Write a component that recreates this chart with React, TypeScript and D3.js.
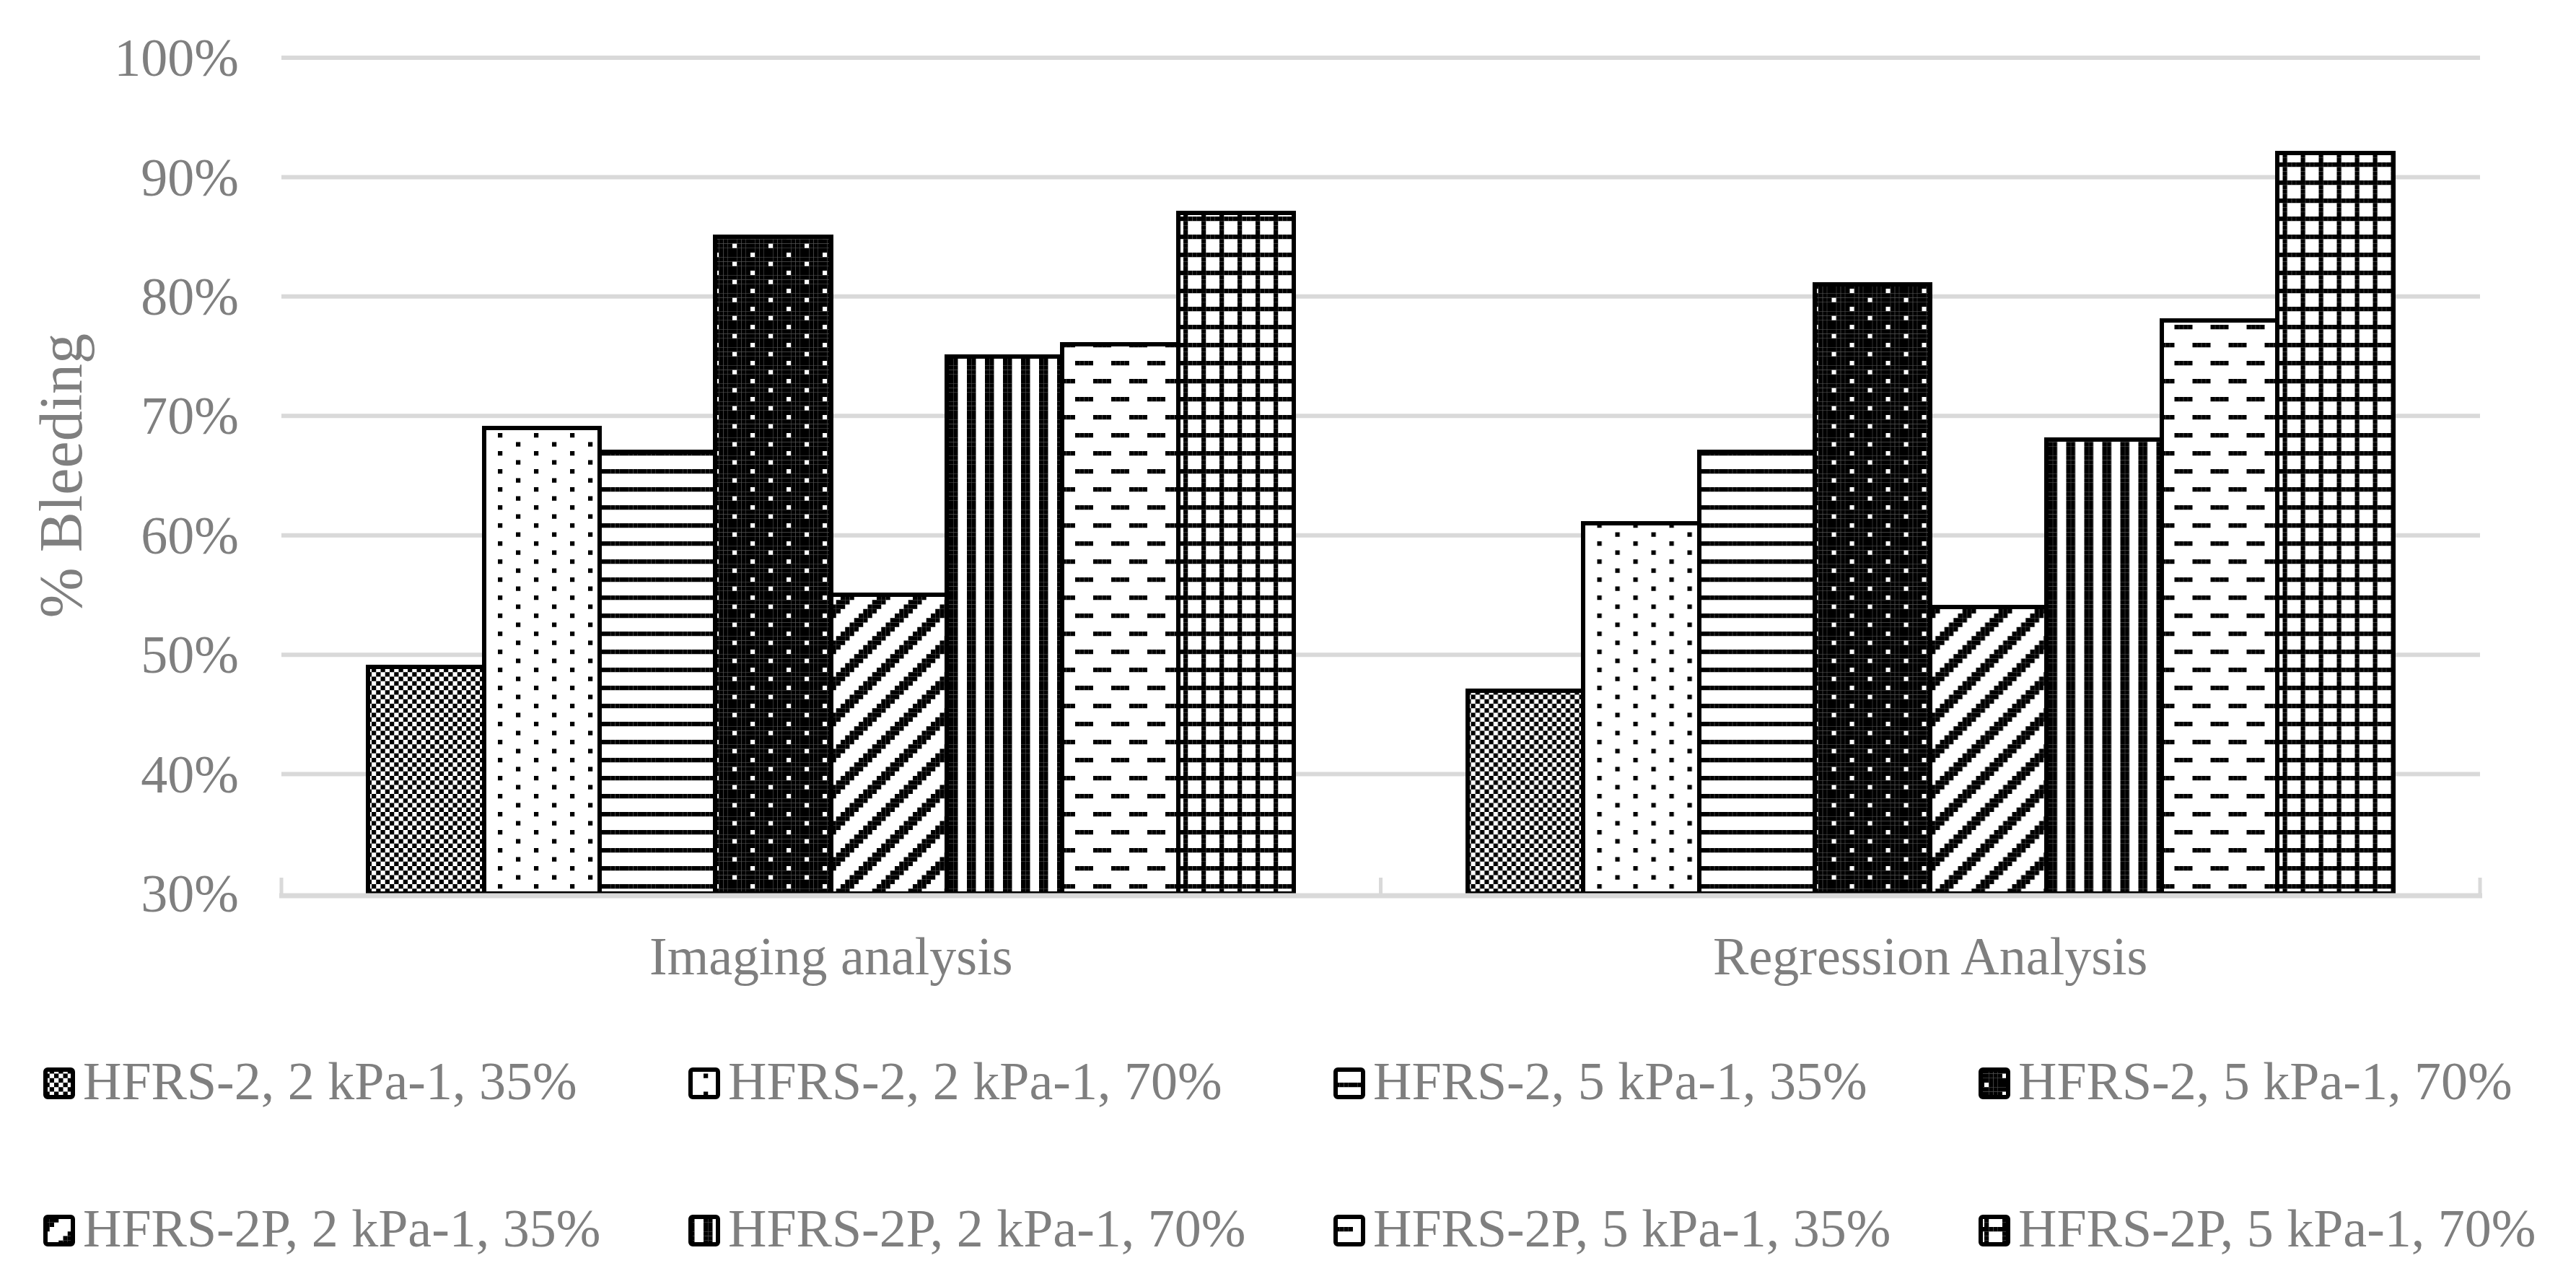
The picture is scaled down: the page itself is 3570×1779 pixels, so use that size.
import React, { useEffect } from "react";
import * as d3 from "d3";

const categories = ["Imaging analysis", "Regression Analysis"];
const seriesNames = [
  "HFRS-2, 2 kPa-1, 35%",
  "HFRS-2, 2 kPa-1, 70%",
  "HFRS-2, 5 kPa-1, 35%",
  "HFRS-2, 5 kPa-1, 70%",
  "HFRS-2P, 2 kPa-1, 35%",
  "HFRS-2P, 2 kPa-1, 70%",
  "HFRS-2P, 5 kPa-1, 35%",
  "HFRS-2P, 5 kPa-1, 70%",
];
const imagingValues = [0.49, 0.69, 0.67, 0.85, 0.55, 0.75, 0.76, 0.87];
const regressionValues = [0.47, 0.61, 0.67, 0.81, 0.54, 0.68, 0.78, 0.92];
const yTicks = [0.3, 0.4, 0.5, 0.6, 0.7, 0.8, 0.9, 1.0];

// 8x8 pattern bitmaps (Excel-style fills)
const patternBitmaps: string[][] = [
  // small checker
  ["10101010", "01010101", "10101010", "01010101", "10101010", "01010101", "10101010", "01010101"],
  // 10% dots
  ["10000000", "00000000", "00001000", "00000000", "10000000", "00000000", "00001000", "00000000"],
  // horizontal lines
  ["11111111", "00000000", "00000000", "00000000", "11111111", "00000000", "00000000", "00000000"],
  // 90% (inverse dots)
  ["01111111", "11111111", "11110111", "11111111", "01111111", "11111111", "11110111", "11111111"],
  // wide upward diagonal
  [0, 1, 2, 3, 4, 5, 6, 7].map((r) =>
    [0, 1, 2, 3, 4, 5, 6, 7].map((c) => (((c + r) % 8) < 3 ? "1" : "0")).join("")
  ),
  // dark vertical
  ["11001100", "11001100", "11001100", "11001100", "11001100", "11001100", "11001100", "11001100"],
  // dashed horizontal
  ["11110000", "00000000", "00000000", "00000000", "00001111", "00000000", "00000000", "00000000"],
  // small grid
  ["11111111", "10001000", "10001000", "10001000", "11111111", "10001000", "10001000", "10001000"],
];

const W = 3570;
const H = 1779;
const PX = 6.25;
const FONT = "'Liberation Serif', 'Times New Roman', serif";
const GRAY = "#7f7f7f";
const GRID = "#d9d9d9";

function PatternDef({ id, bits }: { id: string; bits: string[] }) {
  const rects: React.ReactNode[] = [];
  bits.forEach((row, r) => {
    row.split("").forEach((ch, c) => {
      if (ch === "1")
        rects.push(
          <rect key={`${r}-${c}`} x={c * PX} y={r * PX} width={PX} height={PX} fill="#000" />
        );
    });
  });
  return (
    <pattern id={id} patternUnits="userSpaceOnUse" width={8 * PX} height={8 * PX} x={0} y={0}>
      <rect x={0} y={0} width={8 * PX} height={8 * PX} fill="#fff" />
      {rects}
    </pattern>
  );
}

export default function App() {
  useEffect(() => {
    document.body.style.margin = "0";
    document.body.style.overflow = "hidden";
  }, []);

  const plotLeft = 390;
  const plotRight = 3437;
  const plotTop = 80;
  const plotBottom = 1238;

  const y = d3.scaleLinear().domain([0.3, 1.0]).range([plotBottom, plotTop]);
  const x0 = d3.scaleBand<string>().domain(categories).range([plotLeft, plotRight]).padding(0);
  const x1 = d3
    .scaleBand<string>()
    .domain(seriesNames)
    .range([0, x0.bandwidth()])
    .paddingInner(0)
    .paddingOuter(0.75);

  const data = [imagingValues, regressionValues];

  const legendColX = (i: number) => 60 + (i % 4) * 894;
  const legendRowBase = [1523, 1727];

  return (
    <svg
      width={W}
      height={H}
      style={{ position: "absolute", left: 0, top: 0, display: "block", background: "#fff" }}
      xmlns="http://www.w3.org/2000/svg"
    >
      <defs>
        {patternBitmaps.map((bits, i) => (
          <PatternDef key={i} id={`pat${i}`} bits={bits} />
        ))}
      </defs>
      <rect x={0} y={0} width={W} height={H} fill="#fff" />

      {/* gridlines */}
      {yTicks
        .filter((t) => t > 0.3)
        .map((t) => (
          <line
            key={t}
            x1={plotLeft}
            x2={plotRight}
            y1={y(t)}
            y2={y(t)}
            stroke={GRID}
            strokeWidth={6}
          />
        ))}

      {/* y tick labels */}
      {yTicks.map((t) => (
        <text
          key={`l${t}`}
          x={331}
          y={y(t)}
          dy="0.34em"
          textAnchor="end"
          fontFamily={FONT}
          fontSize={74}
          fill={GRAY}
        >
          {d3.format(".0%")(t)}
        </text>
      ))}

      {/* bars */}
      {categories.map((cat, ci) => (
        <g key={cat} transform={`translate(${x0(cat)},0)`}>
          {seriesNames.map((s, si) => {
            const v = data[ci][si];
            return (
              <rect
                key={s}
                x={x1(s)}
                y={y(v)}
                width={x1.bandwidth()}
                height={plotBottom - y(v)}
                fill={`url(#pat${si})`}
                stroke="#000"
                strokeWidth={6}
                shapeRendering="crispEdges"
              />
            );
          })}
        </g>
      ))}

      {/* category axis */}
      <line
        x1={plotLeft - 3}
        x2={plotRight + 3}
        y1={plotBottom + 3}
        y2={plotBottom + 3}
        stroke={GRID}
        strokeWidth={7}
      />
      {[plotLeft, ...categories.map((c) => (x0(c) as number) + x0.bandwidth())].map((tx, i) => (
        <line
          key={`t${i}`}
          x1={tx}
          x2={tx}
          y1={plotBottom - 22}
          y2={plotBottom + 3}
          stroke={GRID}
          strokeWidth={5}
        />
      ))}
      {categories.map((cat) => (
        <text
          key={`c${cat}`}
          x={(x0(cat) as number) + x0.bandwidth() / 2}
          y={1350}
          textAnchor="middle"
          fontFamily={FONT}
          fontSize={74}
          fill={GRAY}
        >
          {cat}
        </text>
      ))}

      {/* y axis title */}
      <text
        transform={`translate(113,${(plotTop + plotBottom) / 2}) rotate(-90)`}
        textAnchor="middle"
        fontFamily={FONT}
        fontSize={84}
        fill={GRAY}
      >
        % Bleeding
      </text>

      {/* legend */}
      {seriesNames.map((s, i) => {
        const cx = legendColX(i);
        const base = legendRowBase[Math.floor(i / 4)];
        return (
          <g key={`lg${i}`}>
            <rect
              x={cx + 3}
              y={base - 44 + 3}
              width={38}
              height={38}
              rx={3}
              fill={`url(#pat${i})`}
              stroke="#000"
              strokeWidth={6}
            />
            <text x={cx + 55} y={base} fontFamily={FONT} fontSize={74} fill={GRAY}>
              {s}
            </text>
          </g>
        );
      })}
    </svg>
  );
}
